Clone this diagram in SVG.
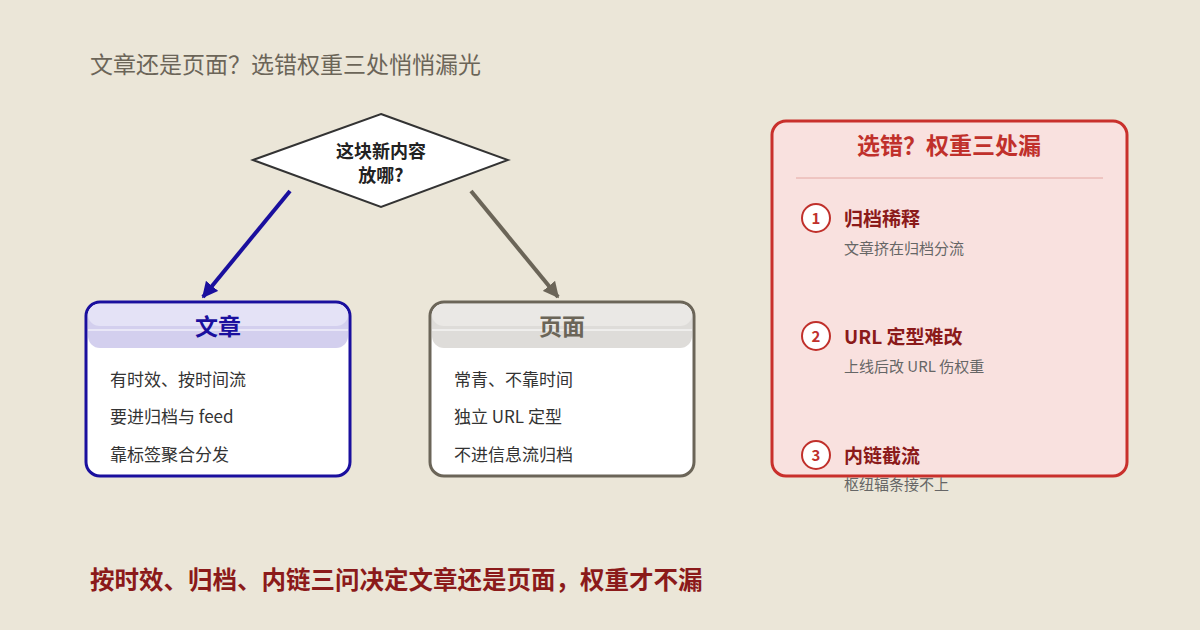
<svg xmlns="http://www.w3.org/2000/svg" width="1200" height="630" viewBox="0 0 1200 630">
<defs>
<style>
text{font-family:"Noto Sans CJK SC","Noto Sans",sans-serif}
.item{font-size:17px;fill:#333}
.rt{font-size:19px;font-weight:bold;fill:#8b1a1a}
.rs{font-size:15px;fill:#666}
.num{font-size:15px;font-weight:bold;fill:#c0302b}
.circ{fill:#fff;stroke:#c0302b;stroke-width:2}
</style>
<marker id="ab" viewBox="0 0 10 10" refX="9" refY="5" markerWidth="4" markerHeight="4" orient="auto"><path d="M0,0L10,5L0,10z" fill="#1a0f9e"/></marker>
<marker id="ag" viewBox="0 0 10 10" refX="9" refY="5" markerWidth="4" markerHeight="4" orient="auto"><path d="M0,0L10,5L0,10z" fill="#6b6558"/></marker>
</defs>
<rect width="1200" height="630" fill="#ebe6d8"/>
<text x="90" y="73" font-size="23" fill="#6b6558">文章还是页面？选错权重三处悄悄漏光</text>
<g id="decision">
<polygon points="381,114 508,160 381,207 253,160" fill="#fff" stroke="#333" stroke-width="2"/>
<text x="381" y="158" text-anchor="middle" font-size="18" font-weight="bold" fill="#222">这块新内容</text>
<text x="381" y="182" text-anchor="middle" font-size="18" font-weight="bold" fill="#222">放哪?</text>
</g>
<g id="connectors">
<line x1="290" y1="191" x2="203" y2="297" stroke="#1a0f9e" stroke-width="4" marker-end="url(#ab)"/>
<line x1="471" y1="191" x2="558" y2="297" stroke="#6b6558" stroke-width="4" marker-end="url(#ag)"/>
</g>
<g id="article">
<rect x="86" y="302" width="264" height="174" rx="14" fill="#fff" stroke="#1a0f9e" stroke-width="3"/>
<rect x="88" y="304" width="260" height="44" rx="12" fill="#d3cfee"/>
<rect x="88" y="304" width="260" height="22" rx="12" fill="#e4e2f6"/>
<line x1="88" y1="330" x2="348" y2="330" stroke="#fff" stroke-width="1"/>
<text x="218" y="335" text-anchor="middle" font-size="23" font-weight="bold" fill="#1a0f9e">文章</text>
<text x="110" y="386" class="item">有时效、按时间流</text>
<text x="110" y="423" class="item">要进归档与 feed</text>
<text x="110" y="461" class="item">靠标签聚合分发</text>
</g>
<g id="page">
<rect x="430" y="302" width="264" height="174" rx="14" fill="#fff" stroke="#6b6558" stroke-width="3"/>
<rect x="432" y="304" width="260" height="44" rx="12" fill="#dedcd9"/>
<rect x="432" y="304" width="260" height="22" rx="12" fill="#eae8e5"/>
<line x1="432" y1="330" x2="692" y2="330" stroke="#fff" stroke-width="1"/>
<text x="562" y="335" text-anchor="middle" font-size="23" font-weight="bold" fill="#6b6558">页面</text>
<text x="454" y="386" class="item">常青、不靠时间</text>
<text x="454" y="423" class="item">独立 URL 定型</text>
<text x="454" y="461" class="item">不进信息流归档</text>
</g>
<g id="risks">
<rect x="772" y="121" width="355" height="355" rx="14" fill="#f9e1df" stroke="#c9302c" stroke-width="3"/>
<text x="949" y="154" text-anchor="middle" font-size="23" font-weight="bold" fill="#c0302b">选错？权重三处漏</text>
<line x1="796" y1="178" x2="1103" y2="178" stroke="#e4a8a3" stroke-width="1"/>
<circle cx="816" cy="218" r="14" class="circ"/><text x="816" y="224" text-anchor="middle" class="num">1</text>
<text x="844" y="226" class="rt">归档稀释</text>
<text x="844" y="254" class="rs">文章挤在归档分流</text>
<circle cx="816" cy="336" r="14" class="circ"/><text x="816" y="342" text-anchor="middle" class="num">2</text>
<text x="844" y="344" class="rt">URL 定型难改</text>
<text x="844" y="372" class="rs">上线后改 URL 伤权重</text>
<circle cx="816" cy="455" r="14" class="circ"/><text x="816" y="461" text-anchor="middle" class="num">3</text>
<text x="844" y="463" class="rt">内链截流</text>
<text x="844" y="490" class="rs">枢纽辐条接不上</text>
</g>
<text x="90" y="589" font-size="24.5" font-weight="bold" fill="#8b1a1a">按时效、归档、内链三问决定文章还是页面，权重才不漏</text>
</svg>
